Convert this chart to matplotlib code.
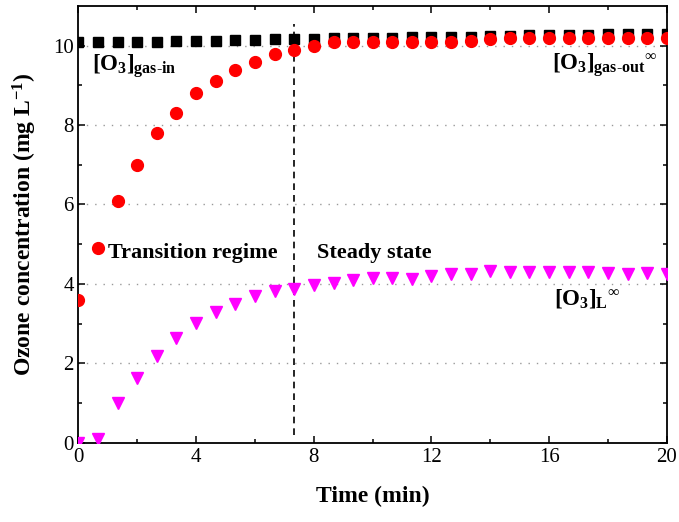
import numpy as np
import matplotlib
matplotlib.use('Agg')
import matplotlib.pyplot as plt

# Sampling times (min), one point every 40 s
time = [0, 0.67, 1.33, 2, 2.67, 3.33, 4, 4.67, 5.33, 6, 6.67, 7.33, 8, 8.67,
        9.33, 10, 10.67, 11.33, 12, 12.67, 13.33, 14, 14.67, 15.33, 16,
        16.67, 17.33, 18, 18.67, 19.33, 20]

o3_gas_in = [10.1, 10.1, 10.1, 10.1, 10.1, 10.12, 10.12, 10.13, 10.14, 10.15,
             10.16, 10.17, 10.18, 10.19, 10.2, 10.2, 10.2, 10.21, 10.22, 10.23,
             10.23, 10.25, 10.25, 10.26, 10.27, 10.27, 10.28, 10.29, 10.3,
             10.3, 10.3]

o3_gas_out = [3.6, 4.9, 6.1, 7.0, 7.8, 8.3, 8.8, 9.1, 9.4, 9.6, 9.8, 9.9,
              10.0, 10.1, 10.1, 10.1, 10.1, 10.1, 10.1, 10.1, 10.13, 10.18,
              10.19, 10.2, 10.2, 10.2, 10.2, 10.2, 10.2, 10.2, 10.2]

o3_liquid = [0.0, 0.08, 1.0, 1.63, 2.19, 2.64, 3.01, 3.29, 3.49, 3.69, 3.81,
             3.86, 3.98, 4.02, 4.11, 4.14, 4.15, 4.13, 4.19, 4.26, 4.25, 4.32,
             4.29, 4.29, 4.29, 4.29, 4.29, 4.28, 4.25, 4.28, 4.26]

t_steady = 7.33

plt.rcParams['font.family'] = ['Liberation Serif', 'DejaVu Serif']
plt.rcParams['mathtext.fontset'] = 'custom'
plt.rcParams['mathtext.rm'] = 'Liberation Serif'
plt.rcParams['mathtext.bf'] = 'Liberation Serif:bold'
plt.rcParams['mathtext.it'] = 'Liberation Serif:italic'

fig = plt.figure(figsize=(6.79, 5.22), dpi=100)
ax = fig.add_axes([0.1156, 0.152, 0.8664, 0.8365])

# horizontal dotted grid
for yv in [2, 4, 6, 8, 10]:
    ax.axhline(yv, color='#999999', lw=1.0, ls=(0, (1, 5)), zorder=0)

ax.plot(time, o3_gas_in, 's', color='black', ms=7.5, zorder=2)
ax.plot(time, o3_gas_out, 'o', color='red', ms=8.5, mec='red', zorder=3)
ax.plot(time, o3_liquid, 'v', color='magenta', ms=8.5, zorder=3)

ax.plot([t_steady, t_steady], [0.2, 10.55], color='black', lw=1.2,
        ls=(0, (4, 3)), zorder=1)

fs = 16.5
ax.text(0.45, 9.38, r'$\mathbf{[O}_{\mathbf{3}}\mathbf{]}_{\mathbf{gas\text{-}in}}$',
        fontsize=fs, va='baseline', ha='left')
ax.text(16.1, 9.39,
        r'$\mathbf{[O}_{\mathbf{3}}\mathbf{]}_{\mathbf{gas\text{-}out}}{}^{\infty}$',
        fontsize=fs, va='baseline', ha='left')
ax.text(16.15, 3.49, r'$\mathbf{[O}_{\mathbf{3}}\mathbf{]}_{\mathbf{L}}{}^{\infty}$',
        fontsize=fs, va='baseline', ha='left')
ax.text(1.0, 4.64, 'Transition regime', fontsize=16, fontweight='bold',
        va='baseline', ha='left')
ax.text(8.1, 4.64, 'Steady state', fontsize=16, fontweight='bold',
        va='baseline', ha='left')

ax.set_xlim(0, 20)
ax.set_ylim(0, 11)
ax.set_xticks([0, 4, 8, 12, 16, 20])
ax.set_xticks([2, 6, 10, 14, 18], minor=True)
ax.set_yticks([0, 2, 4, 6, 8, 10])
ax.set_yticks([1, 3, 5, 7, 9], minor=True)
ax.tick_params(which='both', direction='in', top=True, right=True,
               labelsize=15, width=1.1)
ax.tick_params(which='major', length=5)
ax.tick_params(which='minor', length=3)
for sp in ax.spines.values():
    sp.set_linewidth(1.3)

ax.set_xlabel('Time (min)', fontsize=17, fontweight='bold', labelpad=14)
ax.set_ylabel(r'Ozone concentration (mg L$^{\mathbf{-1}}$)', fontsize=17,
              fontweight='bold', labelpad=10)

fig.savefig('out.png', dpi=100)
